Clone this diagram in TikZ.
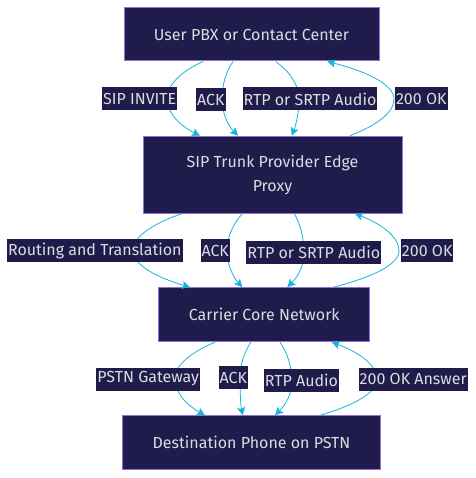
\documentclass[tikz,border=0pt]{standalone}
\usepackage{fontspec}
\setmainfont{Fira Sans}
\usetikzlibrary{arrows.meta}
\definecolor{boxfill}{HTML}{1F1B4A}
\definecolor{boxline}{HTML}{9370DB}
\definecolor{boxtext}{HTML}{DCDCE0}
\definecolor{flowc}{HTML}{17B6D6}
\tikzset{
	box/.style={draw=boxline, fill=boxfill, text=boxtext, line width=1pt,
		inner sep=0pt, align=center, font=\fontsize{16}{24}\selectfont},
	lab/.style={fill=boxfill, text=boxtext, inner xsep=1pt, inner ysep=0pt,
		minimum height=23pt, font=\fontsize{16}{18}\selectfont},
	flow/.style={draw=flowc, line width=0.8pt, -{Stealth[length=8pt,width=8pt,inset=1.5pt]}},
}

\begin{document}
\begin{tikzpicture}[x=1pt, y=1pt]
	\useasboundingbox (0,0) rectangle (475,-478);

	% boxes
	\node[box, minimum width=255pt, minimum height=53pt] (pbx) at (251.5,-34.5) {User PBX or Contact Center};
	\node[box, minimum width=259pt, minimum height=77pt] (proxy) at (272.5,-174.7) {SIP Trunk Provider Edge\\Proxy};
	\node[box, minimum width=211pt, minimum height=54pt] (core) at (264.3,-314.7) {Carrier Core Network};
	\node[box, minimum width=258pt, minimum height=54pt] (dest) at (251.5,-442.8) {Destination Phone on PSTN};

	% user pbx -> proxy
	\coordinate (l1) at (167,-99);
	\coordinate (l2) at (222,-99);
	\coordinate (l3) at (299,-99);
	\coordinate (l4) at (394,-99);
	\draw[flow] ([xshift=-48.5]pbx.south) .. controls +(-22,-10) and +(0,14) .. (l1) .. controls +(0,-14) and +(-20,10) .. ([xshift=-72.5]proxy.north);
	\draw[flow] ([xshift=-18.5]pbx.south) .. controls +(-7,-10) and +(0,14) .. (l2) .. controls +(0,-14) and +(-10,10) .. ([xshift=-34.5]proxy.north);
	\draw[flow] ([xshift=24.2]pbx.south) .. controls +(14,-10) and +(0,14) .. (l3) .. controls +(0,-14) and +(4,10) .. ([xshift=19.2]proxy.north);
	\draw[flow] ([xshift=77.5]proxy.north) .. controls +(26,10) and +(0,-14) .. (l4) .. controls +(0,14) and +(40,-10) .. ([xshift=75.8]pbx.south);
	\node[lab] (sipinvite) at (139.7,-99) {SIP INVITE};
	\node[lab] (ack1) at (210.8,-99.5) {ACK};
	\node[lab] (rtp1) at (310,-99) {RTP or SRTP Audio};
	\node[lab] (ok1) at (421.3,-99) {200 OK};

	% proxy -> core
	\coordinate (m1) at (133,-250.7);
	\coordinate (m2) at (227,-250.7);
	\coordinate (m3) at (304,-252.7);
	\coordinate (m4) at (399,-250.7);
	\draw[flow] ([xshift=-90.8]proxy.south) .. controls +(-29,-10) and +(0,14) .. (m1) .. controls +(0,-14) and +(-34,10) .. ([xshift=-74.3]core.north);
	\draw[flow] ([xshift=-30.2]proxy.south) .. controls +(-9,-10) and +(0,14) .. (m2) .. controls +(0,-14) and +(-9,10) .. ([xshift=-22]core.north);
	\draw[flow] ([xshift=21.8]proxy.south) .. controls +(6,-10) and +(0,14) .. (m3) .. controls +(0,-14) and +(10,10) .. ([xshift=23]core.north);
	\draw[flow] ([xshift=69]core.north) .. controls +(39,10) and +(0,-14) .. (m4) .. controls +(0,14) and +(26,-10) .. ([xshift=82.5]proxy.south);
	\node[lab] (routing) at (94.8,-250.7) {Routing and Translation};
	\node[lab] (ack2) at (215.2,-250.7) {ACK};
	\node[lab] (rtp2) at (313.8,-252.7) {RTP or SRTP Audio};
	\node[lab] (ok2) at (427.2,-250.7) {200 OK};

	% core -> destination
	\coordinate (n1) at (175,-379);
	\coordinate (n2) at (240,-377.7);
	\coordinate (n3) at (292,-380.8);
	\coordinate (n4) at (377,-379);
	\draw[flow] ([xshift=-49.3]core.south) .. controls +(-24,-10) and +(0,14) .. (n1) .. controls +(0,-14) and +(-18,10) .. ([xshift=-46.5]dest.north);
	\draw[flow] ([xshift=-13.6]core.south) .. controls +(-6,-10) and +(0,14) .. (n2) .. controls +(0,-14) and +(-2,10) .. ([xshift=-8.8]dest.north);
	\draw[flow] ([xshift=15.7]core.south) .. controls +(7,-10) and +(0,14) .. (n3) .. controls +(0,-14) and +(10,10) .. ([xshift=23.5]dest.north);
	\draw[flow] ([xshift=68.5]dest.north) .. controls +(34,10) and +(0,-14) .. (n4) .. controls +(0,14) and +(27,-10) .. ([xshift=67.4]core.south);
	\node[lab] (gateway) at (148.2,-379) {PSTN Gateway};
	\node[lab] (ack3) at (233.3,-377.7) {ACK};
	\node[lab] (rtp3) at (301.5,-380.8) {RTP Audio};
	\node[lab] (answer) at (413.2,-379) {200 OK Answer};
\end{tikzpicture}
\end{document}
